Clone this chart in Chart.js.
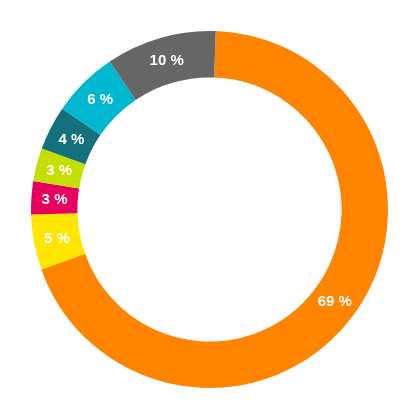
<!DOCTYPE html>
<html>
<head>
<meta charset="utf-8">
<script src="https://cdn.jsdelivr.net/npm/chart.js@4"></script>
<style>
  html, body { margin: 0; padding: 0; background: #fff; }
  #wrap { width: 419px; height: 419px; }
</style>
</head>
<body>
<div id="wrap"><canvas id="donut"></canvas></div>
<script>
const labels = ['A', 'B', 'C', 'D', 'E', 'F', 'G'];
const values = [69, 5, 3, 3, 4, 6, 10];
const colors = ['#ff8500', '#ffe500', '#e8005f', '#c5e000', '#14707b', '#00b7d0', '#666666'];

// draws "xx %" in the middle of each arc
const sliceLabels = {
    id: 'sliceLabels',
    afterDatasetsDraw(chart) {
        const ctx = chart.ctx;
        const meta = chart.getDatasetMeta(0);
        ctx.save();
        ctx.fillStyle = '#fff';
        ctx.font = 'bold 15px "Liberation Sans", Arial, sans-serif';
        ctx.textAlign = 'center';
        ctx.textBaseline = 'middle';
        meta.data.forEach((arc, i) => {
            const p = arc.tooltipPosition();
            ctx.fillText(values[i] + ' %', p.x, p.y + 1);
        });
        ctx.restore();
    }
};

new Chart(document.getElementById('donut'), {
    type: 'doughnut',
    data: {
        labels: labels,
        datasets: [{
            data: values,
            backgroundColor: colors,
            borderWidth: 0
        }]
    },
    options: {
        responsive: true,
        maintainAspectRatio: false,
        animation: false,
        rotation: 2,
        cutout: '74%',
        layout: { padding: 31 },
        plugins: {
            legend: { display: false },
            tooltip: { enabled: false }
        }
    },
    plugins: [sliceLabels]
});
</script>
</body>
</html>
